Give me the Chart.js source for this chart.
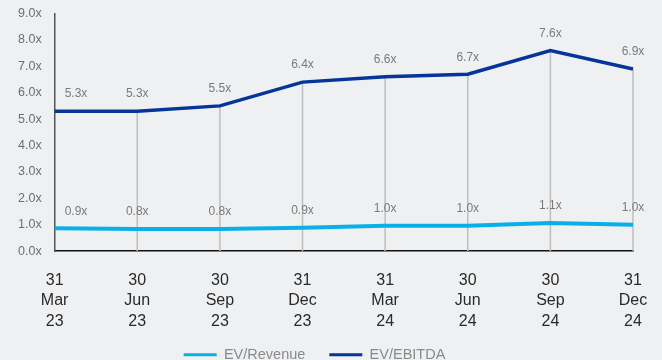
<!DOCTYPE html>
<html>
<head>
<meta charset="utf-8">
<script src="https://cdn.jsdelivr.net/npm/chart.js@4"></script>
<style>
  body { margin: 0; background: #eff0f2; }
  #wrap { width: 662px; height: 360px; position: relative; }
</style>
</head>
<body>
<div id="wrap"><canvas id="multiples"></canvas></div>
<script>
const categories = [
  ["31", "Mar", "23"], ["30", "Jun", "23"], ["30", "Sep", "23"], ["31", "Dec", "23"],
  ["31", "Mar", "24"], ["30", "Jun", "24"], ["30", "Sep", "24"], ["31", "Dec", "24"]
];
const evRevenue = [0.86, 0.84, 0.84, 0.88, 0.96, 0.96, 1.06, 1.0];
const evEbitda = [5.3, 5.3, 5.5, 6.4, 6.6, 6.7, 7.6, 6.9];
const yTicks = [0, 1, 2, 3, 4, 5, 6, 7, 8, 9];

const FONT = "'Liberation Sans', Arial, sans-serif";

// grey drop lines from each EV/EBITDA point down to the x axis
const dropLines = {
  id: "dropLines",
  beforeDatasetsDraw(chart) {
    const meta = chart.getDatasetMeta(1);
    const bottom = chart.chartArea.bottom;
    const ctx = chart.ctx;
    ctx.save();
    ctx.strokeStyle = "#bfbfbf";
    ctx.lineWidth = 1.5;
    meta.data.forEach(function (pt, i) {
      if (i === 0) return;
      ctx.beginPath();
      ctx.moveTo(pt.x, pt.y);
      ctx.lineTo(pt.x, bottom);
      ctx.stroke();
    });
    ctx.restore();
  }
};

// value labels above the points
const valueLabels = {
  id: "valueLabels",
  afterDatasetsDraw(chart) {
    const ctx = chart.ctx;
    ctx.save();
    ctx.font = "12px " + FONT;
    ctx.fillStyle = "#7a7a7a";
    ctx.textBaseline = "middle";
    chart.data.datasets.forEach(function (ds, di) {
      chart.getDatasetMeta(di).data.forEach(function (pt, i) {
        const txt = ds.data[i].toFixed(1) + "x";
        if (i === 0) {
          ctx.textAlign = "left";
          ctx.fillText(txt, pt.x + 10, pt.y - 17);
        } else {
          ctx.textAlign = "center";
          ctx.fillText(txt, pt.x, pt.y - 17);
        }
      });
    });
    ctx.restore();
  }
};

// put the legend right under the date labels, a little left of centre
const legendShift = {
  id: "legendShift",
  afterLayout(chart) {
    const lg = chart.legend;
    const h = lg.bottom - lg.top;
    lg.left -= 4.5;
    lg.right -= 4.5;
    lg.top = 323.5;
    lg.bottom = lg.top + h;
  }
};

const ctx = document.getElementById("multiples").getContext("2d");

new Chart(ctx, {
  type: "line",
  data: {
    labels: categories,
    datasets: [
      {
        label: "EV/Revenue",
        data: evRevenue,
        borderColor: "#0aafe8",
        backgroundColor: "#0aafe8",
        borderWidth: 4,
        pointRadius: 0,
        tension: 0,
      },
      {
        label: "EV/EBITDA",
        data: evEbitda,
        borderColor: "#06359a",
        backgroundColor: "#06359a",
        borderWidth: 3.5,
        pointRadius: 0,
        tension: 0,
      },
    ],
  },
  options: {
    responsive: true,
    maintainAspectRatio: false,
    animation: false,
    layout: { padding: { left: 5, right: 29, top: 13.5, bottom: -39 } },
    scales: {
      x: {
        offset: false,
        grid: { display: false, drawTicks: false },
        border: { display: true, color: "#111111", width: 1.5 },
        ticks: {
          color: "#2a2a2a",
          font: { family: FONT, size: 16, lineHeight: 1.28 },
          padding: 19,
          maxRotation: 0,
          autoSkip: false,
        },
        afterFit: function (scale) {
          scale.paddingLeft = 0;
          scale.paddingRight = 0;
        },
      },
      y: {
        min: 0,
        max: 9,
        afterBuildTicks: function (axis) {
          axis.ticks = yTicks.map(function (v) { return { value: v }; });
        },
        grid: { display: false, drawTicks: false },
        border: { display: true, color: "#555555", width: 1.5 },
        ticks: {
          color: "#6e6e6e",
          font: { family: FONT, size: 12.5 },
          padding: 13,
          callback: function (value) {
            return Number(value).toFixed(1) + "x";
          },
        },
        afterFit: function (scale) {
          scale.paddingTop = 0;
          scale.paddingBottom = 0;
        },
      },
    },
    plugins: {
      legend: {
        position: "bottom",
        labels: {
          color: "#8a8a8a",
          font: { family: FONT, size: 14.5 },
          boxWidth: 33,
          boxHeight: 3,
          padding: 24,
          generateLabels: function (chart) {
            return Chart.defaults.plugins.legend.labels.generateLabels(chart).map(function (l) {
              l.lineWidth = 0;
              return l;
            });
          },
        },
      },
      tooltip: { enabled: false },
    },
  },
  plugins: [dropLines, valueLabels, legendShift],
});
</script>
</body>
</html>
